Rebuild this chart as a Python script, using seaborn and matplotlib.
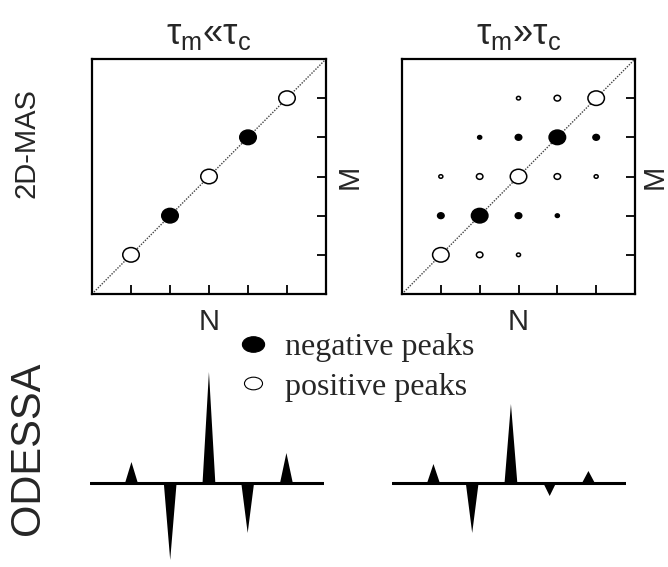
import numpy as np
import pandas as pd
import matplotlib
matplotlib.use("Agg")
import matplotlib.pyplot as plt
from matplotlib.path import Path
from matplotlib.lines import Line2D
import seaborn as sns

# ---------------- data ----------------
titles = [r"$\mathregular{\tau_m}$«$\mathregular{\tau_c}$", r"$\mathregular{\tau_m}$»$\mathregular{\tau_c}$"]
row_labels = ["2D-MAS", "ODESSA"]

# left 2D panel (tau_m << tau_c): only diagonal peaks
left_N = [1, 2, 3, 4, 5]
left_M = [1, 2, 3, 4, 5]
left_sign = ["pos", "neg", "pos", "neg", "pos"]
left_mag = [3, 3, 3, 3, 3]

# right 2D panel (tau_m >> tau_c): diagonal + cross peaks
right_N = [3, 4, 5, 2, 3, 4, 5, 1, 2, 3, 4, 5, 1, 2, 3, 4, 1, 2, 3]
right_M = [5, 5, 5, 4, 4, 4, 4, 3, 3, 3, 3, 3, 2, 2, 2, 2, 1, 1, 1]
right_sign = ["pos", "pos", "pos", "neg", "neg", "neg", "neg",
              "pos", "pos", "pos", "pos", "pos",
              "neg", "neg", "neg", "neg", "pos", "pos", "pos"]
right_mag = [1, 2, 3, 1, 2, 3, 2, 1, 2, 3, 2, 1, 2, 3, 2, 1, 3, 2, 1]

# ODESSA spectra
peak_pos = [1, 2, 3, 4, 5]
left_heights = [21, -77, 111, -50, 30]
right_heights = [19, -50, 79, -13, 12]

legend_labels = ["negative peaks", "positive peaks"]

# ---------------- style ----------------
sns.set_style("white")
plt.rcParams["font.family"] = ["Liberation Sans", "DejaVu Sans"]
plt.rcParams["mathtext.fontset"] = "dejavusans"

W, H = 668, 567
fig = plt.figure(figsize=(W / 100, H / 100), dpi=100)


def frac(x0, y0, x1, y1):
    return [x0 / W, 1 - y1 / H, (x1 - x0) / W, (y1 - y0) / H]


circ = Path.unit_circle()
ell = Path(circ.vertices * np.array([1.0, 0.88]), circ.codes)
ell_leg = Path(circ.vertices * np.array([1.0, 0.7]), circ.codes)

palette = {"neg": "black", "pos": "white"}
sizes = {1: 8.5, 2: 22, 3: 141}

panel_boxes = [(92, 59, 326, 294), (402, 59, 635, 294)]
panel_data = [(left_N, left_M, left_sign, left_mag),
              (right_N, right_M, right_sign, right_mag)]
m_pads = [7, 4]

for box, (n, m, sg, mg), title, mpad in zip(panel_boxes, panel_data, titles, m_pads):
    ax = fig.add_axes(frac(*box))
    df = pd.DataFrame({"N": n, "M": m, "sign": sg, "mag": mg})
    ax.axline((0, 0), slope=1, color="#444444", lw=1.0, ls=(0, (1, 1)), zorder=1)
    sns.scatterplot(data=df, x="N", y="M", hue="sign", palette=palette,
                    size="mag", sizes=sizes, marker=ell, edgecolor="black",
                    linewidth=1.1, legend=False, ax=ax, zorder=3)
    ax.set_xlim(0, 6)
    ax.set_ylim(0, 6)
    ax.set_xticks([1, 2, 3, 4, 5])
    ax.set_yticks([1, 2, 3, 4, 5])
    ax.yaxis.tick_right()
    ax.tick_params(axis="both", direction="in", length=6.5, width=1.3,
                   labelbottom=False, labelright=False, labelleft=False,
                   left=False, right=True, top=False, bottom=True, color="black")
    for sp in ax.spines.values():
        sp.set_linewidth(1.6)
        sp.set_color("black")
    ax.set_xlabel("N", fontsize=21, labelpad=10)
    ax.yaxis.set_label_position("right")
    ax.set_ylabel("M", fontsize=21, labelpad=mpad, rotation=90)
    ax.set_title(title, fontsize=26, pad=11)

# ODESSA spectra
spec_boxes = [(90, 365, 324, 565), (392, 365, 626, 565)]
half_w = 0.165
for box, heights in zip(spec_boxes, [left_heights, right_heights]):
    ax = fig.add_axes(frac(*box))
    ax.axhline(0, color="black", lw=2.2, zorder=2)
    for x, h in zip(peak_pos, heights):
        ax.fill([x - half_w, x, x + half_w], [0, h, 0], color="black", lw=0, zorder=3)
    ax.set_xlim(-0.07, 5.97)
    ax.set_ylim(-82, 118)
    ax.axis("off")

# row labels
fig.text(27 / W, 1 - 143 / H, row_labels[0], rotation=90, ha="center", va="center", fontsize=21)
fig.text(28 / W, 1 - 448 / H, row_labels[1], rotation=90, ha="center", va="center", fontsize=30)

# legend
handles = [
    Line2D([], [], ls="", marker=ell_leg, markersize=16, markerfacecolor="black",
           markeredgecolor="black", markeredgewidth=0.8),
    Line2D([], [], ls="", marker=ell_leg, markersize=13, markerfacecolor="white",
           markeredgecolor="black", markeredgewidth=0.8),
]
fig.legend(handles, legend_labels, loc="upper left",
           bbox_to_anchor=(237 / W, 1 - 333 / H), frameon=False,
           prop={"family": ["Liberation Serif"], "size": 23},
           handlelength=1.0, handletextpad=0.5, labelspacing=0.31,
           borderpad=0, borderaxespad=0)

fig.savefig("out.png", dpi=100)
